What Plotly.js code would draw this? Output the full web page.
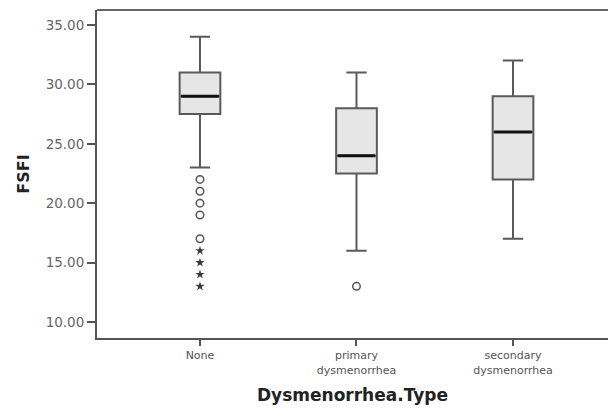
<!DOCTYPE html>
<html>
<head>
<meta charset="utf-8">
<script src="https://cdn.plot.ly/plotly-3.0.1.min.js"></script>
<style>html,body{margin:0;padding:0;background:#fff;}#chart{width:608px;height:409px;}</style>
</head>
<body>
<div id="chart"></div>
<script>
// Data
const categories = ["None", "primary dysmenorrhea", "secondary dysmenorrhea"];
const tickLabels = ["None", "primary<br>dysmenorrhea", "secondary<br>dysmenorrhea"];
const lowerWhisker = [23, 16, 17];
const q1 = [27.5, 22.5, 22];
const median = [29, 24, 26];
const q3 = [31, 28, 29];
const upperWhisker = [34, 31, 32];
// outliers (circles) and extreme values (stars)
const outlierCat = ["None", "None", "None", "None", "None", "primary dysmenorrhea"];
const outlierVal = [22, 21, 20, 19, 17, 13];
const extremeCat = ["None", "None", "None", "None"];
const extremeVal = [16, 15, 14, 13];
const yTicks = [10, 15, 20, 25, 30, 35];

const boxWidth = 0.26;
const traces = [
  {
    type: "box",
    x: categories,
    q1: q1, median: median, q3: q3,
    lowerfence: lowerWhisker, upperfence: upperWhisker,
    fillcolor: "#e6e6e6",
    line: {color: "#5a5a5a", width: 2},
    whiskerwidth: 0.5,
    width: boxWidth,
    boxpoints: false,
    hoverinfo: "skip",
    showlegend: false
  },
  {
    type: "scatter", mode: "markers",
    x: outlierCat, y: outlierVal,
    marker: {symbol: "circle-open", size: 7.5, color: "#555555", line: {width: 1.5}},
    showlegend: false, hoverinfo: "skip"
  },
  {
    type: "scatter", mode: "markers",
    x: extremeCat, y: extremeVal,
    marker: {symbol: "star", size: 7, color: "#3a3a3a"},
    showlegend: false, hoverinfo: "skip"
  }
];

// thick black median lines computed from the median array
const shapes = median.map((m, i) => ({
  type: "line", xref: "x", yref: "y",
  x0: i - boxWidth / 2 + 0.01, x1: i + boxWidth / 2 - 0.01, y0: m, y1: m,
  line: {color: "#111111", width: 3}
}));
// top frame line
shapes.push({type: "line", xref: "paper", yref: "paper", x0: 0, x1: 1, y0: 1, y1: 1,
  line: {color: "#666666", width: 2}});

const layout = {
  width: 608, height: 409,
  margin: {l: 97, r: 0, t: 10, b: 71},
  paper_bgcolor: "#ffffff", plot_bgcolor: "#ffffff",
  font: {family: "DejaVu Sans, Arial, sans-serif", color: "#555555"},
  xaxis: {
    type: "category",
    range: [-0.658, 2.607],
    tickvals: categories, ticktext: tickLabels,
    showgrid: false, zeroline: false,
    showline: true, linecolor: "#555555", linewidth: 2,
    ticks: "outside", ticklen: 6, tickwidth: 2, tickcolor: "#555555",
    tickfont: {size: 11, color: "#555555"},
    title: {text: "Dysmenorrhea.Type", font: {size: 17, color: "#222222", family: "DejaVu Sans, Arial, sans-serif", weight: "bold"}, standoff: 14}
  },
  yaxis: {
    range: [8.65, 36.26],
    tickvals: yTicks, tickformat: ".2f",
    showgrid: false, zeroline: false,
    showline: true, linecolor: "#555555", linewidth: 2,
    ticks: "outside", ticklen: 8, tickwidth: 2, tickcolor: "#555555",
    tickfont: {size: 13.5, color: "#666666"},
    title: {text: "FSFI", font: {size: 16, color: "#222222", family: "DejaVu Sans, Arial, sans-serif", weight: "bold"}, standoff: 12}
  },
  shapes: shapes
};

Plotly.newPlot("chart", traces, layout, {displayModeBar: false, staticPlot: true});
</script>
</body>
</html>
